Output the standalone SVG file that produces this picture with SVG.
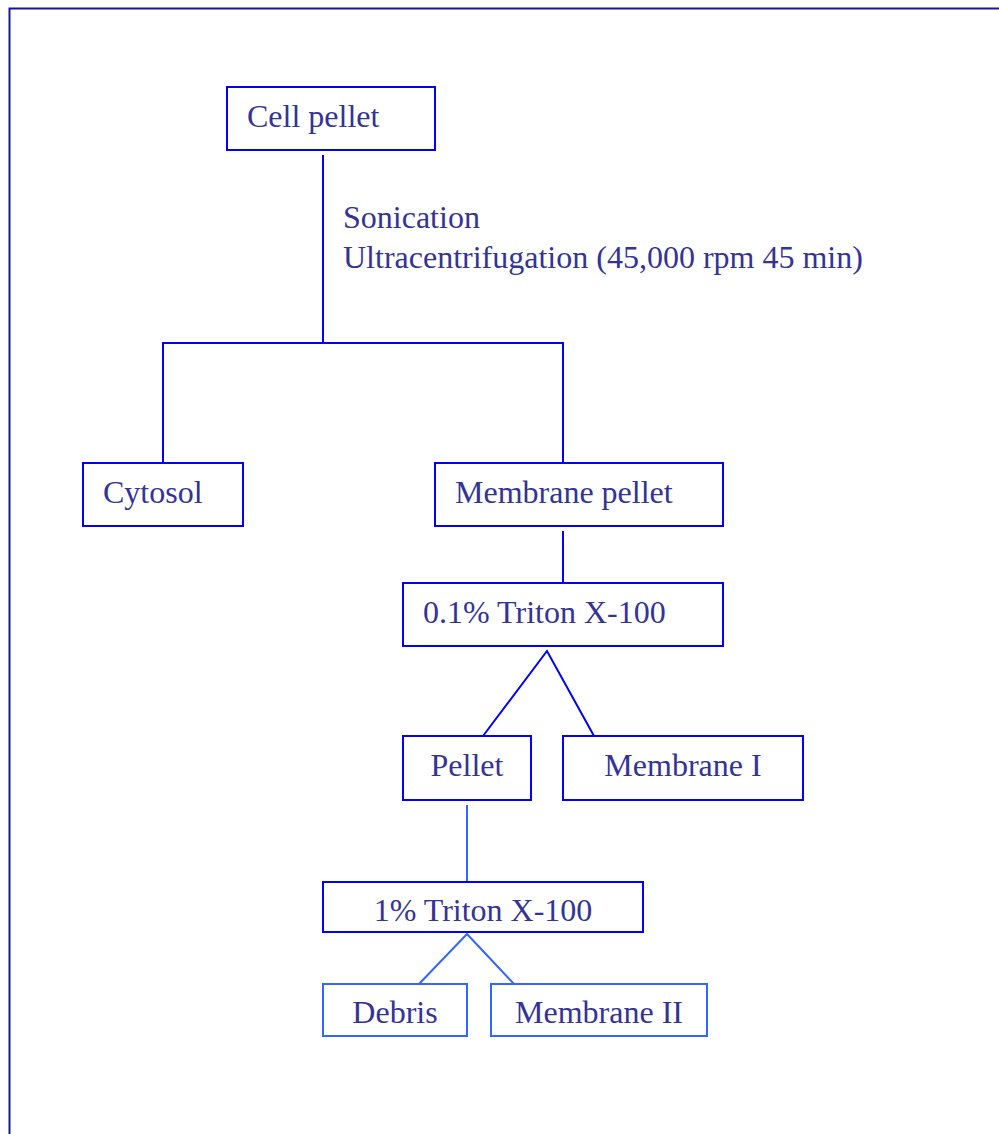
<svg xmlns="http://www.w3.org/2000/svg" width="999" height="1134" viewBox="0 0 999 1134">
<style>
.box{fill:#fff;stroke:#0000ff;stroke-width:2}
.lbox{fill:#fff;stroke:#3366ff;stroke-width:2}
.t{font-family:"Liberation Serif","Times New Roman",serif;font-size:32px;fill:#333399}
.c{text-anchor:middle}
.ln{stroke:#0000ff;stroke-width:2;fill:none}
.ll{stroke:#3366ff;stroke-width:2;fill:none}
</style>
<rect x="0" y="0" width="999" height="1134" fill="#fff"/>
<rect id="frame" x="9.5" y="8.5" width="1000" height="1200" fill="none" stroke="#17179a" stroke-width="2"/>
<g id="connectors">
<polyline class="ln" points="323,155 323,343"/>
<polyline class="ln" points="163,463 163,343 563,343 563,463"/>
<polyline class="ln" points="563,531 563,583"/>
<polyline class="ln" points="483,736 547,651 594,736"/>
<polyline class="ll" points="467,805 467,882"/>
<polyline class="ll" points="419,984 467,934 514,984"/>
</g>
<g id="label-process">
<text class="t" x="343" y="228">Sonication</text>
<text class="t" x="343" y="268">Ultracentrifugation (45,000 rpm 45 min)</text>
</g>
<g id="cell-pellet"><rect class="box" x="227" y="87" width="208" height="63"/><text class="t" x="247" y="127">Cell pellet</text></g>
<g id="cytosol"><rect class="box" x="83" y="463" width="160" height="63"/><text class="t" x="103" y="503">Cytosol</text></g>
<g id="membrane-pellet"><rect class="box" x="435" y="463" width="288" height="63"/><text class="t" x="455" y="503">Membrane pellet</text></g>
<g id="triton01"><rect class="box" x="403" y="583" width="320" height="63"/><text class="t" x="423" y="623">0.1% Triton X-100</text></g>
<g id="pellet"><rect class="box" x="403" y="736" width="128" height="64"/><text class="t c" x="467" y="776">Pellet</text></g>
<g id="membrane-i"><rect class="box" x="563" y="736" width="240" height="64"/><text class="t c" x="683" y="776">Membrane I</text></g>
<g id="triton1"><rect class="box" x="323" y="882" width="320" height="50"/><text class="t c" x="483" y="921">1% Triton X-100</text></g>
<g id="debris"><rect class="lbox" x="323" y="984" width="144" height="52"/><text class="t c" x="395" y="1023">Debris</text></g>
<g id="membrane-ii"><rect class="lbox" x="491" y="984" width="216" height="52"/><text class="t c" x="599" y="1023">Membrane II</text></g>
</svg>
